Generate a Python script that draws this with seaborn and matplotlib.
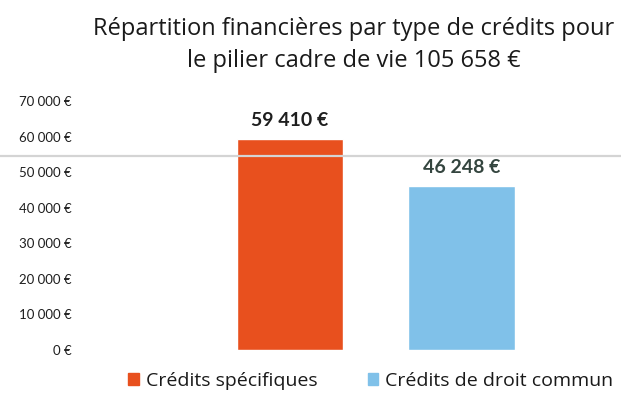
"""
Répartition financière par type de crédits — pilier cadre de vie
"""

import matplotlib
matplotlib.use("Agg")
import matplotlib.pyplot as plt
import matplotlib.patches as mpatches
from matplotlib.lines import Line2D
from matplotlib.ticker import FuncFormatter
import seaborn as sns

# ── Data ─────────────────────────────────────────────────────────────────────
categories = ["Crédits spécifiques", "Crédits de droit commun"]
amounts = [59410, 46248]
y_ticks = [0, 10000, 20000, 30000, 40000, 50000, 60000, 70000]
title = "Répartition financières par type de crédits pour\nle pilier cadre de vie 105 658 €"

COLORS = {"Crédits spécifiques": "#e8501e", "Crédits de droit commun": "#80c1e9"}
LABEL_COLORS = ["#1e1e1e", "#34453f"]


def euro(v, _pos=None):
    return f"{int(v):,} €".replace(",", " ")


sns.set_theme(style="white")
plt.rcParams["font.family"] = ["Open Sans", "DejaVu Sans"]

fig = plt.figure(figsize=(6.21, 4.03), dpi=100)
ax = fig.add_axes([0.129, 0.1315, 0.871, 0.6175])

sns.barplot(x=categories, y=amounts, hue=categories, palette=COLORS,
            width=0.62, legend=False, saturation=1, ax=ax)

ax.set_xlim(-1.224, 1.93)
ax.set_ylim(0, 70000)
ax.set_yticks(y_ticks)
ax.yaxis.set_major_formatter(FuncFormatter(euro))
ax.tick_params(axis="y", length=0, pad=6, labelsize=9.5, labelcolor="#1e1e1e")
for lbl in ax.get_yticklabels():
    lbl.set_fontfamily(["Lato", "DejaVu Sans"])
ax.set_xticks([])
ax.set_xlabel("")
ax.set_ylabel("")
sns.despine(ax=ax, left=True, bottom=True)

for container, col in zip(ax.containers, LABEL_COLORS):
    labels = ax.bar_label(container, labels=[euro(b.get_height()) for b in container],
                          padding=7, fontsize=14, fontweight="bold", color=col)
    for t in labels:
        t.set_fontfamily(["Lato", "DejaVu Sans"])
        t.set_x(t.get_position()[0])

fig.suptitle(title, x=0.570, y=0.958, fontsize=17, color="#1a1a1a",
             linespacing=1.44, va="top")

handles = [mpatches.Patch(color=COLORS[c], label=c) for c in categories]
fig.legend(handles=handles, loc="lower center", bbox_to_anchor=(0.597, -0.01),
           ncol=2, frameon=False, fontsize=14, handlelength=0.55, handleheight=0.55,
           handletextpad=0.35, columnspacing=2.6, labelcolor="#1a1a1a")

# faint horizontal scan line visible across the reference
fig.add_artist(Line2D([0, 1], [0.613, 0.613], transform=fig.transFigure,
                      color="#d4d4d4", linewidth=1.6, zorder=5))

fig.savefig("out.png", dpi=100, facecolor="white")
plt.close(fig)
